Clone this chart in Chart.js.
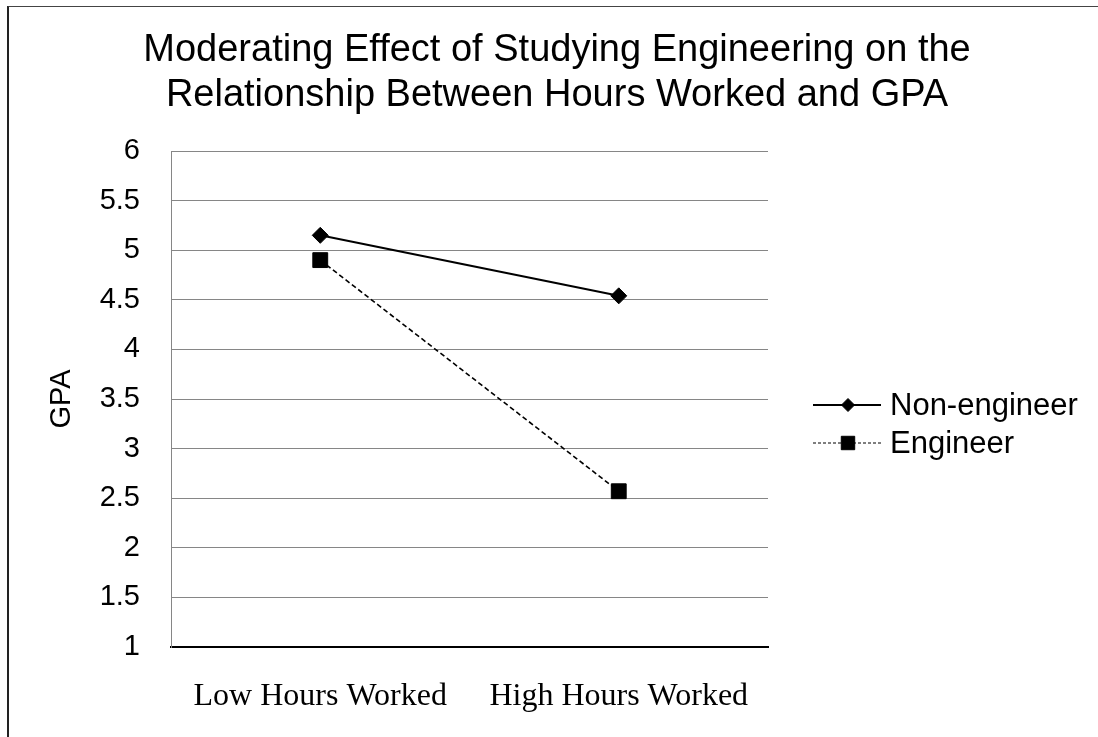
<!DOCTYPE html>
<html>
<head>
<meta charset="utf-8">
<script src="https://cdn.jsdelivr.net/npm/chart.js@4/dist/chart.umd.min.js"></script>
<style>
  html, body { margin: 0; padding: 0; background: #fff; overflow: hidden; }
  #frame { position: absolute; left: 7px; top: 6px; width: 1200px; height: 900px;
           border-left: 2px solid #222; border-top: 1px solid #444; }
  #c { position: absolute; left: 0; top: 0; }
</style>
</head>
<body>
<div id="frame"></div>
<canvas id="c" width="1098" height="737"></canvas>
<script>
const categories = ['Low Hours Worked', 'High Hours Worked'];
const nonEngineer = [5.15, 4.54];
const engineer = [4.90, 2.57];
const seriesNames = ['Non-engineer', 'Engineer'];
const titleLines = ['Moderating Effect of Studying Engineering on the', 'Relationship Between Hours Worked and GPA'];
const yAxisTitle = 'GPA';

const SANS = '"Liberation Sans", Arial, sans-serif';
const SERIF = '"Liberation Serif", "Times New Roman", serif';

const overlayPlugin = {
  id: 'overlay',
  afterDraw(chart) {
    const ctx = chart.ctx;
    ctx.save();
    // Title
    ctx.fillStyle = '#000';
    ctx.font = '38px ' + SANS;
    ctx.textAlign = 'center';
    ctx.textBaseline = 'alphabetic';
    ctx.fillText(titleLines[0], 557, 61);
    ctx.fillText(titleLines[1], 557, 106);
    // Legend
    const rows = [405, 443];
    chart.data.datasets.forEach((ds, i) => {
      const y = rows[i];
      ctx.save();
      ctx.strokeStyle = ds.borderColor;
      ctx.lineWidth = i === 0 ? 2 : 1.2;
      ctx.setLineDash(i === 0 ? [] : [3, 2]);
      ctx.beginPath();
      ctx.moveTo(813, y);
      ctx.lineTo(881, y);
      ctx.stroke();
      ctx.restore();
      Chart.helpers.drawPoint(ctx, {
        pointStyle: ds.pointStyle,
        radius: i === 0 ? 6.5 : 9.5,
        rotation: 0,
        borderWidth: 1
      }, 848, y);
      ctx.fillStyle = '#000';
      ctx.font = '31px ' + SANS;
      ctx.textAlign = 'left';
      ctx.textBaseline = 'middle';
      ctx.fillText(ds.label, 890, y + 1);
    });
    ctx.restore();
  }
};

Chart.defaults.elements.point.backgroundColor = '#000';

const chart = new Chart(document.getElementById('c'), {
  type: 'line',
  data: {
    labels: categories,
    datasets: [
      {
        label: seriesNames[0],
        data: nonEngineer,
        borderColor: '#000',
        backgroundColor: '#000',
        borderWidth: 2,
        pointStyle: 'rectRot',
        pointRadius: 8,
        pointBorderWidth: 1,
        pointBackgroundColor: '#000',
        pointBorderColor: '#000',
        tension: 0
      },
      {
        label: seriesNames[1],
        data: engineer,
        borderColor: '#000',
        backgroundColor: '#000',
        borderWidth: 1.6,
        borderDash: [5, 3],
        pointStyle: 'rect',
        pointRadius: 10.5,
        pointBorderWidth: 1,
        pointBackgroundColor: '#000',
        pointBorderColor: '#000',
        tension: 0
      }
    ]
  },
  options: {
    responsive: false,
    animation: false,
    devicePixelRatio: 1,
    layout: { padding: { left: 0, top: 151, right: 330, bottom: 0 } },
    plugins: {
      legend: { display: false },
      title: { display: false },
      tooltip: { enabled: false }
    },
    scales: {
      x: {
        offset: true,
        grid: { display: false, drawTicks: false },
        border: { display: true, color: '#000', width: 2 },
        ticks: { color: '#000', font: { family: SERIF, size: 32 }, padding: 30, maxRotation: 0 },
        afterFit(scale) { scale.height = 90; }
      },
      y: {
        min: 1,
        max: 6,
        ticks: {
          stepSize: 0.5, color: '#000', font: { family: SANS, size: 29 }, padding: 31,
          callback: (v) => String(v)
        },
        grid: {
          drawTicks: false,
          color: (c) => (c.tick && c.tick.value === 1) ? 'rgba(0,0,0,0)' : '#868686',
          lineWidth: 1
        },
        border: { display: true, color: '#868686', width: 1 },
        title: {
          display: true,
          text: yAxisTitle,
          color: '#000',
          font: { family: SANS, size: 29 },
          padding: { top: 45, bottom: 0 }
        },
        afterFit(scale) { scale.width = 171; }
      }
    }
  },
  plugins: [overlayPlugin]
});
</script>
</body>
</html>
